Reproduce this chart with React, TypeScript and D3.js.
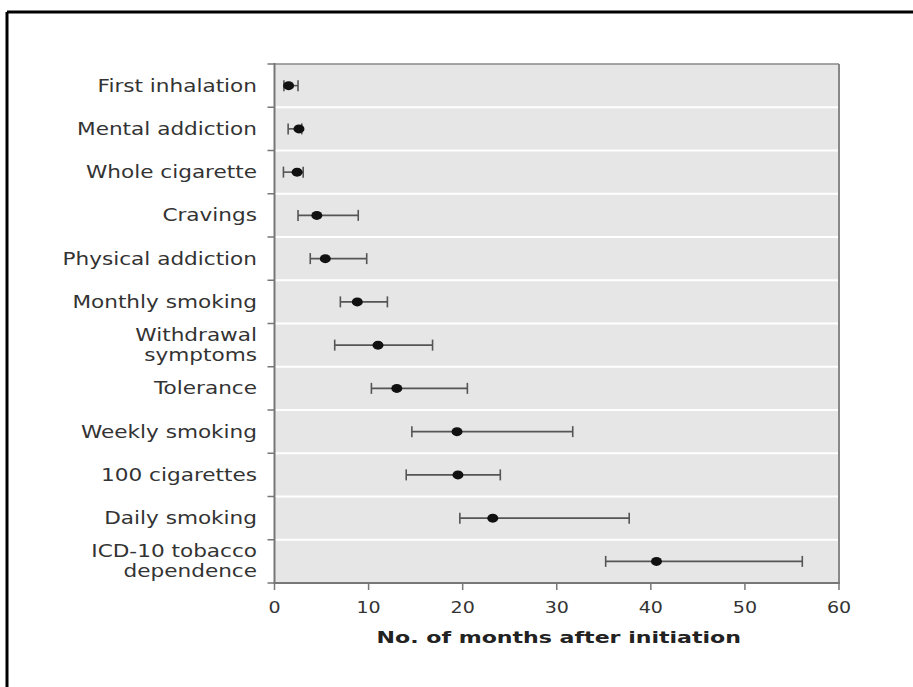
import { useEffect, useRef } from 'react';
import * as d3 from 'd3';

// milestones, top to bottom (\n = line break in the label)
const milestones: string[] = [
  'First inhalation',
  'Mental addiction',
  'Whole cigarette',
  'Cravings',
  'Physical addiction',
  'Monthly smoking',
  'Withdrawal\nsymptoms',
  'Tolerance',
  'Weekly smoking',
  '100 cigarettes',
  'Daily smoking',
  'ICD-10 tobacco\ndependence',
];

// median months after initiation and the interval around it
const medians: number[] = [1.5, 2.6, 2.4, 4.5, 5.4, 8.8, 11.0, 13.0, 19.4, 19.5, 23.2, 40.6];
const lower: number[] = [1.0, 1.45, 0.95, 2.5, 3.8, 7.0, 6.4, 10.3, 14.6, 14.0, 19.7, 35.2];
const upper: number[] = [2.5, 2.9, 3.05, 8.9, 9.8, 12.0, 16.8, 20.5, 31.7, 24.0, 37.7, 56.1];

const xTicks: number[] = [0, 10, 20, 30, 40, 50, 60];
const xTitle = 'No. of months after initiation';

const W = 913;
const H = 687;
const STRETCH = 1.27; // text in the figure is horizontally widened

const App = () => {
  const svgRef = useRef<SVGSVGElement | null>(null);

  useEffect(() => {
    const svg = d3.select(svgRef.current);
    svg.selectAll('*').remove();

    const left = 274.5;
    const right = 839;
    const top = 64;
    const bottom = 583;

    const x = d3.scaleLinear().domain([0, 60]).range([left, right]);
    const y = d3.scaleBand<string>().domain(milestones).range([top, bottom]).padding(0);

    const rows = milestones.map((m, i) => ({
      label: m,
      mid: medians[i],
      lo: lower[i],
      hi: upper[i],
    }));

    // outer frame of the figure (only top + left edges visible)
    svg.append('line').attr('x1', 7).attr('x2', W).attr('y1', 12).attr('y2', 12)
      .attr('stroke', '#000').attr('stroke-width', 3);
    svg.append('line').attr('x1', 7).attr('x2', 7).attr('y1', 12).attr('y2', H)
      .attr('stroke', '#000').attr('stroke-width', 3);

    // plot background
    svg.append('rect')
      .attr('x', left).attr('y', top)
      .attr('width', right - left).attr('height', bottom - top)
      .attr('fill', '#e6e6e6');

    // white row separators
    svg.append('g')
      .selectAll('line')
      .data(milestones.slice(1))
      .join('line')
      .attr('x1', left).attr('x2', right)
      .attr('y1', (d) => y(d)!).attr('y2', (d) => y(d)!)
      .attr('stroke', '#fff').attr('stroke-width', 2);

    // frame lines
    svg.append('line').attr('x1', left).attr('x2', right).attr('y1', top).attr('y2', top)
      .attr('stroke', '#8a8a8a').attr('stroke-width', 1.5);
    svg.append('line').attr('x1', right).attr('x2', right).attr('y1', top).attr('y2', bottom)
      .attr('stroke', '#888').attr('stroke-width', 2);

    // y axis: ticks at row boundaries, labels drawn separately
    const boundaries = d3.range(milestones.length + 1).map((i) => top + i * y.bandwidth());
    svg.append('line').attr('x1', left).attr('x2', left).attr('y1', top - 1).attr('y2', bottom + 1)
      .attr('stroke', '#777').attr('stroke-width', 2);
    svg.append('g')
      .selectAll('line')
      .data(boundaries)
      .join('line')
      .attr('x1', left - 7).attr('x2', left)
      .attr('y1', (d) => d).attr('y2', (d) => d)
      .attr('stroke', '#777').attr('stroke-width', 1.5);

    // x axis
    svg.append('line').attr('x1', left - 1).attr('x2', right + 1).attr('y1', bottom).attr('y2', bottom)
      .attr('stroke', '#777').attr('stroke-width', 2);
    const xg = svg.append('g');
    xg.selectAll('line')
      .data(xTicks)
      .join('line')
      .attr('x1', (d) => x(d)).attr('x2', (d) => x(d))
      .attr('y1', bottom).attr('y2', bottom + 7)
      .attr('stroke', '#777').attr('stroke-width', 1.5);
    xg.selectAll('text')
      .data(xTicks)
      .join('text')
      .attr('transform', (d) => `translate(${x(d)},${613}) scale(${STRETCH},1)`)
      .attr('text-anchor', 'middle')
      .style('font-family', '"DejaVu Sans", sans-serif')
      .style('font-size', '15px')
      .style('fill', '#333')
      .text((d) => d);

    svg.append('text')
      .attr('transform', `translate(${(left + right) / 2 + 2},${643}) scale(1.38,1)`)
      .attr('text-anchor', 'middle')
      .style('font-family', '"DejaVu Sans", sans-serif')
      .style('font-size', '16px')
      .style('font-weight', 'bold')
      .style('fill', '#222')
      .text(xTitle);

    // category labels
    const labels = svg.append('g');
    rows.forEach((r) => {
      const lines = r.label.split('\n');
      const cy = y(r.label)! + y.bandwidth() / 2;
      const lh = 20;
      const firstBase = cy + 6 - ((lines.length - 1) * lh) / 2;
      const t = labels.append('text')
        .attr('transform', `translate(257,${firstBase}) scale(${STRETCH},1)`)
        .attr('text-anchor', 'end')
        .style('font-family', '"DejaVu Sans", sans-serif')
        .style('font-size', '17px')
        .style('fill', '#333');
      lines.forEach((ln, j) => {
        t.append('tspan').attr('x', 0).attr('y', j * lh).text(ln);
      });
    });

    // error bars + medians
    const marks = svg.append('g')
      .selectAll('g')
      .data(rows)
      .join('g')
      .attr('transform', (d) => `translate(0,${y(d.label)! + y.bandwidth() / 2})`);

    marks.append('line')
      .attr('x1', (d) => x(d.lo)).attr('x2', (d) => x(d.hi))
      .attr('stroke', '#555').attr('stroke-width', 1.6);
    marks.append('line')
      .attr('x1', (d) => x(d.lo)).attr('x2', (d) => x(d.lo))
      .attr('y1', -5.5).attr('y2', 5.5)
      .attr('stroke', '#555').attr('stroke-width', 1.6);
    marks.append('line')
      .attr('x1', (d) => x(d.hi)).attr('x2', (d) => x(d.hi))
      .attr('y1', -5.5).attr('y2', 5.5)
      .attr('stroke', '#555').attr('stroke-width', 1.6);
    marks.append('ellipse')
      .attr('cx', (d) => x(d.mid))
      .attr('rx', 5.5).attr('ry', 4.5)
      .attr('fill', '#111');
  }, []);

  return (
    <svg
      ref={svgRef}
      width={W}
      height={H}
      style={{ position: 'absolute', left: 0, top: 0, background: '#fff' }}
    />
  );
};

export default App;
